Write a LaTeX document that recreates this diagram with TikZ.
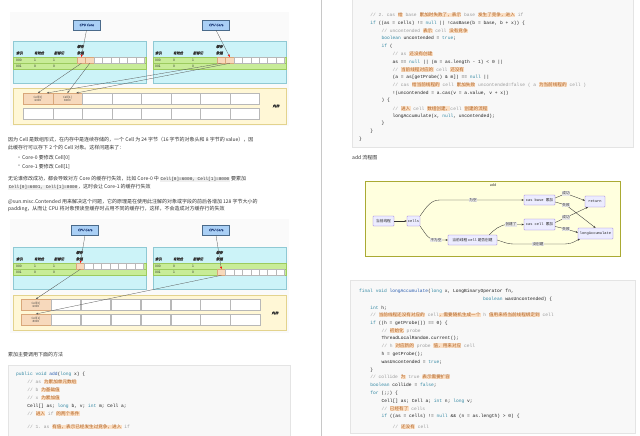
\documentclass[tikz,border=0pt]{standalone}
\usepackage{fontspec}
\setmainfont{Noto Sans CJK SC}
\setmonofont{Liberation Mono}
\newfontfamily\cjkfont{Noto Sans CJK SC}
\newfontfamily\hdrfont[FakeSlant=0.2,FakeBold=1.5]{Noto Sans CJK SC}
\usetikzlibrary{arrows.meta}
\definecolor{bodycol}{HTML}{333333}
\definecolor{codecol}{HTML}{1E1E1E}
\definecolor{cmtcol}{HTML}{9A9A9A}
\definecolor{zhfg}{HTML}{B0601F}
\definecolor{zhbg}{HTML}{FBE0C6}
\definecolor{kwcol}{HTML}{3388A3}
\definecolor{fncol}{HTML}{2A5DB0}
\definecolor{codebgcol}{HTML}{F8F8F8}
\definecolor{codeborder}{HTML}{E4E4E4}
\definecolor{inlinebg}{HTML}{EFEFEF}
\definecolor{diagbg}{HTML}{FAFAFA}
\definecolor{cpufill}{HTML}{A9CFF5}
\definecolor{cpuborder}{HTML}{4A6A8A}
\definecolor{cputext}{HTML}{1F3D7A}
\definecolor{cachefill}{HTML}{CCF3F8}
\definecolor{cacheborder}{HTML}{8FC9D4}
\definecolor{rowfill}{HTML}{C8EC98}
\definecolor{rowborder}{HTML}{9CCB5E}
\definecolor{peach}{HTML}{F7D9BC}
\definecolor{peachborder}{HTML}{D9A77A}
\definecolor{memfill}{HTML}{FFF7D6}
\definecolor{memborder}{HTML}{E3D38E}
\definecolor{cellborder}{HTML}{B8B8B8}
\definecolor{linkcol}{HTML}{555555}
\definecolor{mmfill}{HTML}{FFFFDE}
\definecolor{mmborder}{HTML}{AAAA33}
\definecolor{mmnode}{HTML}{ECECFF}
\definecolor{mmnodeborder}{HTML}{9370DB}
\definecolor{mmedge}{HTML}{333333}
\definecolor{mmlabel}{HTML}{E8E8E8}
\definecolor{sepcol}{HTML}{C8C8C8}
\newcommand\zc[1]{{\setlength{\fboxsep}{0.2pt}\colorbox{zhbg}{\cjkfont\color{zhfg}#1}}}
\newcommand\cm[1]{{\color{cmtcol}#1}}
\newcommand\kw[1]{{\color{kwcol}#1}}
\newcommand\fn[1]{{\color{fncol}#1}}
\newcommand\ic[1]{{\setlength{\fboxsep}{0.6pt}\colorbox{inlinebg}{\ttfamily\fontsize{4.4}{5}\selectfont #1}}}
\newcounter{txl}
\newcommand\txtline[4]{\stepcounter{txl}\node[#1] (t\arabic{txl}) at (#2,#3) {#4};}
\newcommand\rc[3]{\txtline{code}{359+#1*11.15}{#2}{#3}}
\newcommand\lc[3]{\txtline{code}{16+#1*11.15}{#2}{#3}}
\begin{document}
\begin{tikzpicture}[x=1pt,y=-1pt,
  body/.style={anchor=west,inner sep=0pt,font=\fontsize{5}{6}\selectfont,text=bodycol},
  code/.style={anchor=west,inner sep=0pt,font=\ttfamily\fontsize{4.6}{5}\selectfont,text=codecol},
  codebox/.style={fill=codebgcol,draw=codeborder,line width=0.4pt},
  cpu/.style={draw=cpuborder,fill=cpufill,line width=0.4pt,minimum width=27pt,minimum height=10pt,inner sep=0pt,font=\hdrfont\fontsize{3.3}{4}\selectfont,text=cputext},
  cachebox/.style={fill=cachefill,draw=cacheborder,line width=0.4pt},
  rowband/.style={fill=rowfill,draw=rowborder,line width=0.3pt},
  hdr/.style={anchor=west,inner sep=0pt,font=\hdrfont\fontsize{3.3}{4}\selectfont,text=black!80},
  val/.style={anchor=west,inner sep=0pt,font=\fontsize{3.3}{4}\selectfont,text=black!85},
  ccell/.style={draw=cellborder,fill=white,line width=0.3pt,anchor=north west,minimum width=8.4pt,minimum height=6pt,inner sep=0pt},
  pcell/.style={ccell,fill=peach,draw=peachborder},
  membox/.style={fill=memfill,draw=memborder,line width=0.4pt},
  mcell/.style={draw=cellborder,fill=white,line width=0.3pt,anchor=north west,minimum width=29.5pt,minimum height=11pt,inner sep=0pt,align=center,font=\fontsize{2.9}{3.3}\selectfont,text=black!75},
  mpcell/.style={mcell,fill=peach,draw=peachborder},
  memlbl/.style={inner sep=0pt,font=\hdrfont\fontsize{3.4}{4}\selectfont,text=black!80},
  redtip/.style={draw=linkcol,line width=0.3pt,-{Stealth[length=2.6pt,width=2pt,color=red]}},
  memlink/.style={draw=linkcol,line width=0.3pt,-{Stealth[length=2.4pt,width=1.8pt]}},
  mmnodest/.style={draw=mmnodeborder,fill=mmnode,line width=0.35pt,rounded corners=0.6pt,inner sep=0.8pt,minimum height=10pt,font=\fontsize{3.7}{4}\selectfont,text=black!85},
  mmarrow/.style={draw=mmedge,line width=0.35pt,-{Stealth[length=2.2pt,width=1.8pt]}},
  mmlab/.style={fill=mmlabel,inner sep=0.5pt,font=\fontsize{3.6}{4}\selectfont,text=black!80},
]
\useasboundingbox (0,0) rectangle (640,436);
\fill[white] (0,0) rectangle (640,436);
% page separator
\draw[sepcol,line width=0.6pt] (321.5,-1) -- (321.5,437);

% ================= diagram 1 =================
\fill[diagbg] (10,12) rectangle (289,126);
\node[cpu] (cpuA) at (86.5,25) {CPU Core};
\node[cpu] (cpuB) at (216,25) {CPU Core};
\draw[cachebox] (13,41) rectangle (146,83);
\draw[cachebox] (153,41) rectangle (286,83);
\draw[rowband] (13,57) rectangle (146,63);
\draw[rowband] (13,63) rectangle (146,69);
\draw[rowband] (153,57) rectangle (286,63);
\draw[rowband] (153,63) rectangle (286,69);
\node[hdr] (hA1) at (16,53) {索引};
\node[hdr] (hA2) at (34,53) {有效位};
\node[hdr] (hA3) at (54,53) {脏标记};
\node[hdr] (hA4) at (77,46.5) {缓存};
\node[hdr] (hA5) at (77,53) {数据};
\node[hdr] (hB1) at (155,53) {索引};
\node[hdr] (hB2) at (173,53) {有效位};
\node[hdr] (hB3) at (193,53) {脏标记};
\node[hdr] (hB4) at (216,46.5) {缓存};
\node[hdr] (hB5) at (216,53) {数据};
\node[val] (vA1) at (16,60) {000};
\node[val] (vA2) at (34,60) {1};
\node[val] (vA3) at (53,60) {1};
\node[val] (vA4) at (16,66) {001};
\node[val] (vA5) at (34,66) {0};
\node[val] (vA6) at (53,66) {0};
\node[val] (vB1) at (155,60) {000};
\node[val] (vB2) at (173,60) {0};
\node[val] (vB3) at (192,60) {1};
\node[val] (vB4) at (155,66) {001};
\node[val] (vB5) at (173,66) {0};
\node[val] (vB6) at (192,66) {0};
\node[pcell] (ca0) at (77,57) {};
\node[pcell] (ca1) at (85.4,57) {};
\foreach \i in {2,...,7} \node[ccell] (ca\i) at ({77+\i*8.4},57) {};
\node[pcell] (cb0) at (217,57) {};
\node[pcell] (cb1) at (225.4,57) {};
\foreach \i in {2,...,7} \node[ccell] (cb\i) at ({217+\i*8.4},57) {};
\draw[membox] (13,88) rectangle (286,124);
\node[mpcell] (mA0) at (23,93) {Cell[0]\\6000};
\node[mpcell] (mA1) at (52.5,93) {Cell[1]\\8000};
\foreach \i in {2,...,7} \node[mcell] (mA\i) at ({23+\i*29.5},93) {};
\foreach \i in {0,...,7} \node[mcell] (mB\i) at ({23+\i*29.5},108) {};
\node[memlbl] (memL1) at (276,106) {内存};
\draw[redtip] (cpuA.south) -- (ca0.north);
\draw[redtip] (cpuB.south) -- (cb1.north);
\draw[memlink] (ca0.south) -- (mA0.north);
\draw[memlink] (ca1.south) -- (mA1.north);
\draw[memlink] (cb0.south) -- ([xshift=-6pt]mA0.north east);
\draw[memlink] (cb1.south) -- ([xshift=-6pt]mA1.north east);

% ================= text left =================
\node[body] (p1) at (8,140) {因为 Cell 是数组形式，在内存中是连续存储的，一个 Cell 为 24 字节（16 字节的对象头和 8 字节的 value），因};
\node[body] (p2) at (8,147.5) {此缓存行可以存下 2 个的 Cell 对象。这样问题来了：};
\node[body] (b1) at (16.5,158) {•};
\node[body] (p3) at (22,158) {Core-0 要修改 Cell[0]};
\node[body] (b2) at (16.5,166.5) {•};
\node[body] (p4) at (22,166.5) {Core-1 要修改 Cell[1]};
\node[body] (p5) at (8,179) {无论谁修改成功，都会导致对方 Core 的缓存行失效，比如 Core-0 中 \ic{Cell[0]=6000, Cell[1]=8000} 要累加};
\node[body] (p6) at (8,187) {\ic{Cell[0]=6001, Cell[1]=8000}，这时会让 Core-1 的缓存行失效};
\node[body] (p7) at (8,201.5) {@sun.misc.Contended 用来解决这个问题，它的原理是在使用此注解的对象或字段的前后各增加 128 字节大小的};
\node[body] (p8) at (8,209) {padding，从而让 CPU 将对象预读至缓存时占用不同的缓存行，这样，不会造成对方缓存行的失效};

% ================= diagram 2 =================
\fill[diagbg] (10,219) rectangle (289,333);
\node[cpu] (cpuC) at (85,230) {CPU Core};
\node[cpu] (cpuD) at (216,230) {CPU Core};
\draw[cachebox] (13,247) rectangle (146,289);
\draw[cachebox] (153,247) rectangle (286,289);
\draw[rowband] (13,263) rectangle (146,269);
\draw[rowband] (13,269) rectangle (146,275);
\draw[rowband] (153,263) rectangle (286,269);
\draw[rowband] (153,269) rectangle (286,275);
\node[hdr] (hC1) at (16,259) {索引};
\node[hdr] (hC2) at (34,259) {有效位};
\node[hdr] (hC3) at (54,259) {脏标记};
\node[hdr] (hC4) at (76,252.5) {缓存};
\node[hdr] (hC5) at (76,259) {数据};
\node[hdr] (hD1) at (155,259) {索引};
\node[hdr] (hD2) at (173,259) {有效位};
\node[hdr] (hD3) at (193,259) {脏标记};
\node[hdr] (hD4) at (216,252.5) {缓存};
\node[hdr] (hD5) at (216,259) {数据};
\node[val] (vC1) at (16,266) {000};
\node[val] (vC2) at (34,266) {1};
\node[val] (vC3) at (53,266) {1};
\node[val] (vC4) at (16,272) {001};
\node[val] (vC5) at (34,272) {0};
\node[val] (vC6) at (53,272) {0};
\node[val] (vD1) at (155,266) {000};
\node[val] (vD2) at (173,266) {0};
\node[val] (vD3) at (192,266) {1};
\node[val] (vD4) at (155,272) {001};
\node[val] (vD5) at (173,272) {1};
\node[val] (vD6) at (192,272) {0};
\node[pcell] (cc0) at (76,263) {};
\foreach \i in {1,...,7} \node[ccell] (cc\i) at ({76+\i*8.4},263) {};
\node[pcell] (cd0) at (217,269) {};
\foreach \i in {1,...,7} \node[ccell] (cd\i) at ({217+\i*8.4},269) {};
\draw[membox] (13,295) rectangle (286,330);
\node[mpcell] (mC0) at (21,299) {Cell[0]\\6000};
\foreach \i in {1,...,7} \node[mcell] (mC\i) at ({21+\i*29.9},299) {};
\node[mpcell] (mD0) at (21,314) {Cell[1]\\8000};
\foreach \i in {1,...,7} \node[mcell] (mD\i) at ({21+\i*29.9},314) {};
\node[memlbl] (memL2) at (275,313) {内存};
\draw[redtip] (cpuC.south) -- (cc0.north);
\draw[redtip] (cpuD.south) -- (cd0.north);
\draw[memlink] (cc0.south) -- (mC0.north);
\draw[memlink] (cd0.south) -- (mD0.north);

% ================= left code =================
\node[body] (p9) at (8,355) {累加主要调用下面的方法};
\draw[codebox] (8,365) rectangle (290,440);
\lc{0}{374}{\kw{public} \kw{void} \fn{add}(\kw{long} x) \{}
\lc{1}{382}{\cm{// as \zc{为累加单元数组}}}
\lc{1}{390}{\cm{// b \zc{为基础值}}}
\lc{1}{398}{\cm{// x \zc{为累加值}}}
\lc{1}{406}{Cell[] as; \kw{long} b, v; \kw{int} m; Cell a;}
\lc{1}{413.5}{\cm{// \zc{进入} if \zc{的两个条件}}}
\lc{1}{427}{\cm{// 1. as \zc{有值，表示已经发生过竞争，进入} if}}

% ================= right code 1 =================
\draw[codebox] (352,-2) rectangle (633,147);
\rc{1}{15}{\cm{// 2. cas \zc{给} base \zc{累加时失败了，表示} base \zc{发生了竞争，进入} if}}
\rc{1}{23}{\kw{if} ((as = cells) != \kw{null} || !casBase(b = base, b + x)) \{}
\rc{2}{31}{\cm{// uncontended \zc{表示} cell \zc{没有竞争}}}
\rc{2}{38.5}{\kw{boolean} uncontended = \kw{true};}
\rc{2}{46}{\kw{if} (}
\rc{3}{54}{\cm{// as \zc{还没有创建}}}
\rc{3}{62}{as == \kw{null} || (m = as.length - 1) < 0 ||}
\rc{3}{69.5}{\cm{// \zc{当前线程对应的} cell \zc{还没有}}}
\rc{3}{77}{(a = as[getProbe() \& m]) == \kw{null} ||}
\rc{3}{85}{\cm{// cas \zc{给当前线程的} cell \zc{累加失败} uncontended=false ( a \zc{为当前线程的} cell )}}
\rc{3}{93}{!(uncontended = a.cas(v = a.value, v + x))}
\rc{2}{100.5}{) \{}
\rc{3}{108.5}{\cm{// \zc{进入} cell \zc{数组创建，}cell \zc{创建的流程}}}
\rc{3}{116}{longAccumulate(x, \kw{null}, uncontended);}
\rc{2}{123.5}{\}}
\rc{1}{131.5}{\}}
\rc{0}{139}{\}}

% ================= flowchart =================
\node[body] (p10) at (352,158) {add 流程图};
\draw[draw=mmborder,fill=mmfill,line width=0.4pt] (365,181) rectangle (620,256);
\node[inner sep=0pt,font=\fontsize{3.6}{4}\selectfont,text=black!80] (mmtitle) at (493,185) {add};
\node[mmnodest,minimum width=21pt] (n1) at (383.5,221) {当前线程};
\node[mmnodest,minimum width=13pt] (n2) at (413.5,221) {\ttfamily cells};
\node[mmnodest,minimum width=31pt] (n3) at (539.5,200) {\ttfamily cas base {\cjkfont 累加}};
\node[mmnodest,minimum width=20pt,minimum height=11pt] (n4) at (595,201.5) {\ttfamily return};
\node[mmnodest,minimum width=49pt] (n5) at (472.5,240) {当前线程 {\ttfamily cell} 是否创建};
\node[mmnodest,minimum width=31pt,minimum height=11pt] (n6) at (539.5,224.5) {\ttfamily cas cell {\cjkfont 累加}};
\node[mmnodest,minimum width=35pt,minimum height=11pt] (n7) at (595.5,233.5) {\ttfamily longAccumulate};
\draw[mmarrow] (n1.east) -- (n2.west);
\draw[mmarrow] (n2.north east) .. controls (427,206) and (431,200) .. (440,200) -- (n3.west);
\draw[mmarrow] (n2.south east) .. controls (427,236) and (429,240) .. (436,240) -- (n5.west);
\draw[mmarrow] ([xshift=-8pt]n5.north east) .. controls (494,230) and (500,224.5) .. (508,224.5) -- (n6.west);
\draw[mmarrow] (n5.east) .. controls (504,242) and (506,244) .. (515,244) -- (565,244) .. controls (572,244) and (575,241) .. ([xshift=2pt]n7.south west);
\draw[mmarrow] ([yshift=2pt]n3.east) -- (566,193.5) -- ([yshift=1pt]n4.west);
\draw[mmarrow] ([yshift=-2pt]n3.east) -- (566,205) -- (n7.north);
\draw[mmarrow] ([yshift=2pt]n6.east) -- (566,217.5) -- ([xshift=3pt]n4.south west);
\draw[mmarrow] ([yshift=-2pt]n6.east) -- (566,229) -- ([yshift=1pt]n7.west);
\node[mmlab] (l1) at (473,200) {为空};
\node[mmlab] (l2) at (436,240) {不为空};
\node[mmlab] (l3) at (511,224.5) {创建了};
\node[mmlab] (l4) at (538,244) {没创建};
\node[mmlab] (l5) at (566,193.5) {成功};
\node[mmlab] (l6) at (566,205) {失败};
\node[mmlab] (l7) at (566,217.5) {成功};
\node[mmlab] (l8) at (566,229) {失败};

% ================= right code 2 =================
\draw[codebox] (350,280) rectangle (635,433);
\rc{0}{291}{\kw{final} \kw{void} \fn{longAccumulate}(\kw{long} x, LongBinaryOperator fn,}
\txtline{code}{483}{299}{\kw{boolean} wasUncontended) \{}
\rc{1}{308}{\kw{int} h;}
\rc{1}{315}{\cm{// \zc{当前线程还没有对应的} cell\zc{，需要随机生成一个} h \zc{值用来将当前线程绑定到} cell}}
\rc{1}{323}{\kw{if} ((h = getProbe()) == 0) \{}
\rc{2}{331}{\cm{// \zc{初始化} probe}}
\rc{2}{338}{ThreadLocalRandom.current();}
\rc{2}{346}{\cm{// h \zc{对应新的} probe \zc{值，用来对应} cell}}
\rc{2}{354}{h = getProbe();}
\rc{2}{362}{wasUncontended = \kw{true};}
\rc{1}{370}{\}}
\rc{1}{377}{\cm{// collide \zc{为} true \zc{表示需要扩容}}}
\rc{1}{385}{\kw{boolean} collide = \kw{false};}
\rc{1}{393}{\kw{for} (;;) \{}
\rc{2}{401}{Cell[] as; Cell a; \kw{int} n; \kw{long} v;}
\rc{2}{408.5}{\cm{// \zc{已经有了} cells}}
\rc{2}{416}{\kw{if} ((as = cells) != \kw{null} \&\& (n = as.length) > 0) \{}
\rc{3}{427}{\cm{// \zc{还没有} cell}}
\end{tikzpicture}
\end{document}
